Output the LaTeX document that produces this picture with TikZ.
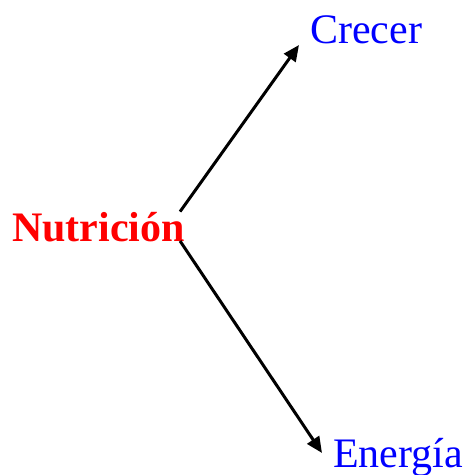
\documentclass[tikz,border=0pt]{standalone}
\usepackage{fontspec}
\setmainfont{Liberation Serif}
\usepackage{tikz}
\usetikzlibrary{arrows.meta}
\tikzset{flecha/.style={-{Stealth[length=16pt,width=14pt,inset=0pt]},line width=3pt}}
\tikzset{palabra/.style={inner sep=0pt,anchor=base west,font=\fontsize{42}{46}\selectfont}}

\begin{document}
\begin{tikzpicture}
    \useasboundingbox (0pt,0pt) rectangle (468pt,-475pt);
    \node[palabra,text=red] (N) at (12pt,-241pt) {\textbf{Nutrición}};
    \node[palabra,text=blue] (C) at (310pt,-43pt) {Crecer};
    \node[palabra,text=blue] (E) at (333pt,-467pt) {Energía};
    \draw[flecha] ([xshift=-5pt]N.north east) -- ([shift={(-11pt,-2pt)}]C.base west);
    \draw[flecha] ([xshift=-5pt]N.base east) -- ([shift={(-11pt,14pt)}]E.base west);
  \end{tikzpicture}
\end{document}
